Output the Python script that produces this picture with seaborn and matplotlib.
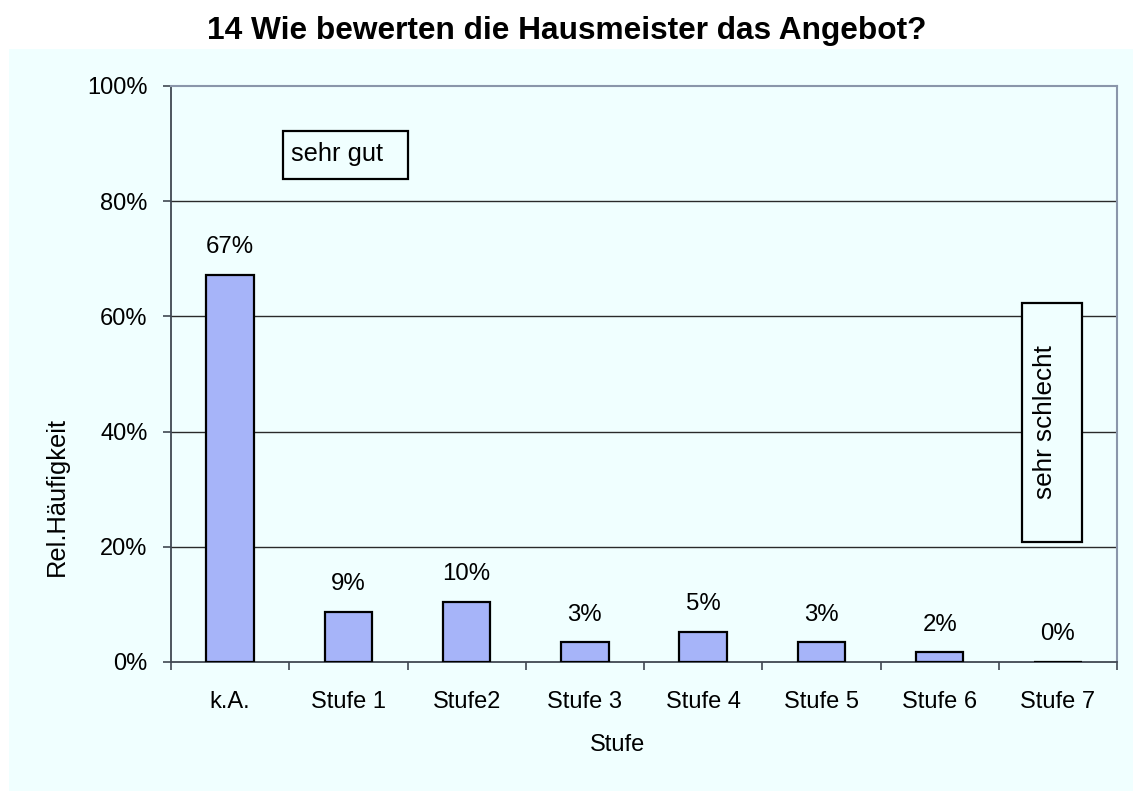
import matplotlib
matplotlib.use("Agg")
import matplotlib.pyplot as plt
from matplotlib.patches import Rectangle
from matplotlib.ticker import FixedLocator, FuncFormatter
import seaborn as sns
import pandas as pd

categories = ["k.A.", "Stufe 1", "Stufe2", "Stufe 3", "Stufe 4", "Stufe 5", "Stufe 6", "Stufe 7"]
values = [67.2, 8.7, 10.4, 3.4, 5.2, 3.4, 1.7, 0.0]
labels = ["67%", "9%", "10%", "3%", "5%", "3%", "2%", "0%"]
y_ticks = [0, 20, 40, 60, 80, 100]

sns.set_theme(style="white")
plt.rcParams["font.family"] = ["Liberation Sans", "DejaVu Sans"]
plt.rcParams["text.color"] = "black"
plt.rcParams["axes.labelcolor"] = "black"
plt.rcParams["xtick.color"] = "black"
plt.rcParams["ytick.color"] = "black"

W, H = 1133, 791
fig = plt.figure(figsize=(W / 100, H / 100), dpi=100, facecolor="white")
panel_col = "#F0FFFF"
fig.patches.append(Rectangle((9 / W, 0), 1 - 9 / W, 1 - 49 / H, transform=fig.transFigure,
                             facecolor=panel_col, edgecolor="none", zorder=-5))

ax = fig.add_axes([171 / W, 1 - 662 / H, (1117 - 171) / W, (662 - 86) / H])
ax.set_facecolor(panel_col)

df = pd.DataFrame({"Stufe": categories, "val": values})
sns.barplot(data=df, x="Stufe", y="val", width=0.4, color="#A6B4F9", saturation=1,
            edgecolor="black", linewidth=1.6, ax=ax, zorder=3)

ax.set_xlim(-0.5, 7.5)
ax.set_ylim(0, 100)
ax.yaxis.set_major_locator(FixedLocator(y_ticks))
ax.yaxis.set_major_formatter(FuncFormatter(lambda v, p: f"{v:.0f}%"))
for yv in y_ticks[1:-1]:
    ax.axhline(yv, color="#2a2a2a", linewidth=1.0, zorder=1)

for s in ["left", "bottom"]:
    ax.spines[s].set_color("#404852")
    ax.spines[s].set_linewidth(1.3)
for s in ["top", "right"]:
    ax.spines[s].set_color("#8a96aa")
    ax.spines[s].set_linewidth(1.5)

ax.set_xticks(range(len(categories)))
ax.set_xticklabels(categories)
ax.set_xticks([i - 0.5 for i in range(len(categories) + 1)], minor=True)
ax.tick_params(axis="x", which="major", length=0, labelsize=17, pad=21, labelcolor="black")
ax.tick_params(axis="x", which="minor", bottom=True, length=6, width=1.2, color="#404852", direction="out")
ax.tick_params(axis="y", left=True, length=6, width=1.2, color="#404852", labelsize=17, pad=11,
               direction="out", labelcolor="black")

ax.set_xlabel("Stufe", fontsize=17, color="black")
ax.xaxis.set_label_coords((618 - 171) / 946, -(745 - 662) / 576)
ax.xaxis.label.set_va("center")
ax.set_ylabel("Rel.Häufigkeit", fontsize=18.4, color="black")
ax.yaxis.set_label_coords(-(171 - 57) / 946, (662 - 497) / 576)
ax.yaxis.label.set_va("center")

for i, (v, lab) in enumerate(zip(values, labels)):
    ax.annotate(lab, (i, v), xytext=(0, 12), textcoords="offset points",
                ha="center", va="bottom", fontsize=17.3, color="black")

fig.text(0.5, 1 - 31 / H, "14 Wie bewerten die Hausmeister das Angebot?", ha="center", va="center",
         fontsize=22.8, fontweight="bold", color="black")

# annotation boxes
ax.add_patch(Rectangle((0.1184, 0.8385), 0.1321, 0.0834, transform=ax.transAxes,
                       facecolor=panel_col, edgecolor="black", linewidth=1.6, zorder=4))
ax.text(0.1270, 0.882, "sehr gut", transform=ax.transAxes, ha="left", va="center",
        fontsize=18.4, zorder=5, color="black")
ax.add_patch(Rectangle((0.8996, 0.2083), 0.0634, 0.4150, transform=ax.transAxes,
                       facecolor=panel_col, edgecolor="black", linewidth=1.6, zorder=4))
ax.text(0.924, 0.4167, "sehr schlecht", transform=ax.transAxes, ha="center", va="center",
        rotation=90, fontsize=18.8, zorder=5, color="black")

fig.savefig("out.png", dpi=100, facecolor=fig.get_facecolor())
